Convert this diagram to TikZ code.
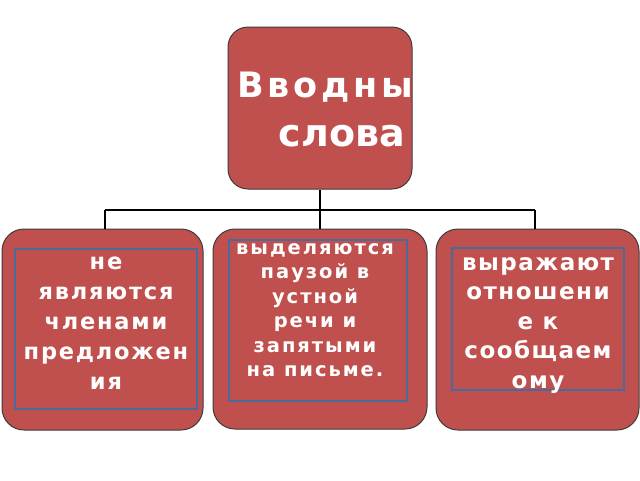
\documentclass[tikz,border=0pt]{standalone}
\usepackage{fontspec}
\setmainfont{DejaVu Sans}
\definecolor{boxred}{HTML}{C0504D}
\definecolor{boxedge}{HTML}{3C3C3C}
\definecolor{inneredge}{HTML}{4A6A9E}
\begin{document}
\begin{tikzpicture}[x=1pt,y=-1pt,
  redbox/.style={draw=boxedge, line width=1pt, fill=boxred, rounded corners=22pt, inner sep=0pt},
  innerbox/.style={draw=inneredge, line width=1.6pt, inner sep=0pt},
  conn/.style={draw=black, line width=2.4pt},
  label/.style={text=white, align=center, inner sep=0pt, anchor=north}]
\useasboundingbox (0,0) rectangle (640,480);
% boxes
\node[redbox, rounded corners=20pt, minimum width=184pt, minimum height=162pt] (top) at (320,108) {};
\node[redbox, minimum width=201pt, minimum height=201pt] (left) at (102.5,329.5) {};
\node[redbox, minimum width=214pt, minimum height=200pt] (mid) at (320,329) {};
\node[redbox, minimum width=203pt, minimum height=201pt] (right) at (537.5,329.5) {};
% inner rectangles
\node[innerbox, minimum width=182pt, minimum height=160pt] (lin) at (106,329) {};
\node[innerbox, minimum width=178pt, minimum height=161pt] (min) at (318,320.5) {};
\node[innerbox, minimum width=172pt, minimum height=142pt] (rin) at (538,319) {};
% connectors
\coordinate (hl) at (105,210);
\coordinate (hr) at (535,210);
\draw[conn] (hl) -- (hr);
\draw[conn] (top.south) -- (mid.north);
\draw[conn] (hl) -- (hl |- left.north);
\draw[conn] (hr) -- (hr |- right.north);
% title text, clipped to the box
\begin{scope}
\clip[rounded corners=20pt] (228,27) rectangle (412,189);
\node[text=white, inner sep=0pt, anchor=base west, font=\bfseries\fontsize{35}{40}\selectfont\addfontfeatures{LetterSpace=11}] (t1) at (237,97) {Вводные};
\node[text=white, inner sep=0pt, anchor=base, font=\bfseries\fontsize{38}{44}\selectfont] (t2) at (342,146) {слова};
\end{scope}
% labels
\node[label, font=\bfseries\fontsize{22.5}{30}\selectfont\addfontfeatures{LetterSpace=8}] (ltext) at (106,257) {не\\являются\\членами\\предложен\\ия};
\node[label, font=\bfseries\fontsize{19.5}{24.5}\selectfont\addfontfeatures{LetterSpace=10}] (mtext) at (315,243) {выделяются\\паузой в\\устной\\речи и\\запятыми\\на письме.};
\node[label, font=\bfseries\fontsize{23}{29.5}\selectfont\addfontfeatures{LetterSpace=6.5}] (rtext) at (538,257) {выражают\\отношени\\е к\\сообщаем\\ому};
\end{tikzpicture}
\end{document}
